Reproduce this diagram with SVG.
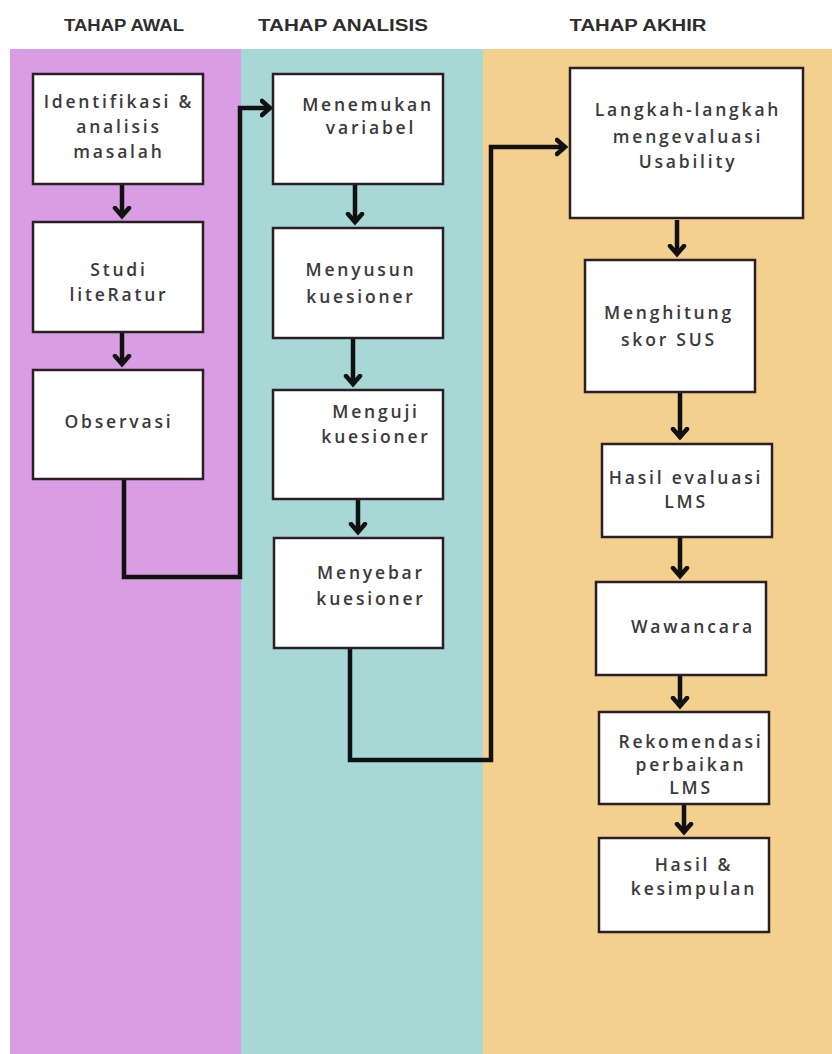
<svg xmlns="http://www.w3.org/2000/svg" width="832" height="1054" viewBox="0 0 832 1054">
<style>
.hdr{font-family:"Liberation Sans",Arial,sans-serif;font-weight:bold;font-size:16px;fill:#2e2e2e;text-anchor:middle}
.box{fill:#fff;stroke:#2a1f24;stroke-width:2.5}
.lbl{font-family:"Open Sans","Noto Sans",sans-serif;font-weight:600;font-size:17.5px;fill:#3a3a3a;letter-spacing:2.8px;text-anchor:middle}
.con{fill:none;stroke:#111;stroke-width:4.5;stroke-linejoin:miter}
</style>
<defs>
<marker id="ah" markerUnits="userSpaceOnUse" markerWidth="20" markerHeight="20" viewBox="-10 -10 20 20" refX="0" refY="0" orient="auto">
<polyline points="-8,-7 0,0 -8,7" fill="none" stroke="#111" stroke-width="4.5" stroke-linecap="round" stroke-linejoin="miter"/>
</marker>
</defs>
<rect x="0" y="0" width="832" height="1054" fill="#fff"/>
<g id="lanes">
<rect x="10" y="49" width="231" height="1005" fill="#d89de2"/>
<rect x="241" y="49" width="242" height="1005" fill="#a7d8d6"/>
<rect x="483" y="49" width="349" height="1005" fill="#f4d08e"/>
</g>
<g id="headers">
<text class="hdr" x="124" y="31" textLength="120" lengthAdjust="spacingAndGlyphs">TAHAP AWAL</text>
<text class="hdr" x="343" y="31" textLength="170" lengthAdjust="spacingAndGlyphs">TAHAP ANALISIS</text>
<text class="hdr" x="638" y="31" textLength="137" lengthAdjust="spacingAndGlyphs">TAHAP AKHIR</text>
</g>
<g id="connectors">
<line class="con" x1="122" y1="185" x2="122" y2="216" marker-end="url(#ah)"/>
<line class="con" x1="122" y1="333" x2="122" y2="364" marker-end="url(#ah)"/>
<polyline class="con" points="124,480 124,577 240,577 240,108 270,108" marker-end="url(#ah)"/>
<line class="con" x1="355" y1="185" x2="355" y2="222" marker-end="url(#ah)"/>
<line class="con" x1="353" y1="339" x2="353" y2="384" marker-end="url(#ah)"/>
<line class="con" x1="358" y1="500" x2="358" y2="532" marker-end="url(#ah)"/>
<polyline class="con" points="350,649 350,760 491,760 491,147 565,147" marker-end="url(#ah)"/>
<line class="con" x1="677" y1="220" x2="677" y2="254" marker-end="url(#ah)"/>
<line class="con" x1="680" y1="393" x2="680" y2="437" marker-end="url(#ah)"/>
<line class="con" x1="680" y1="538" x2="680" y2="576" marker-end="url(#ah)"/>
<line class="con" x1="680" y1="676" x2="680" y2="706" marker-end="url(#ah)"/>
<line class="con" x1="684" y1="805" x2="684" y2="832" marker-end="url(#ah)"/>
</g>
<g id="n1"><rect class="box" x="33" y="74" width="170" height="110"/>
<text class="lbl" x="119" y="108">Identifikasi &amp;</text>
<text class="lbl" x="119" y="133">analisis</text>
<text class="lbl" x="119" y="158">masalah</text></g>
<g id="n2"><rect class="box" x="33" y="222" width="170" height="110"/>
<text class="lbl" x="119" y="276">Studi</text>
<text class="lbl" x="119" y="301">liteRatur</text></g>
<g id="n3"><rect class="box" x="33" y="370" width="170" height="109"/>
<text class="lbl" x="119" y="428">Observasi</text></g>
<g id="n4"><rect class="box" x="273" y="74" width="170" height="110"/>
<text class="lbl" x="368" y="111">Menemukan</text>
<text class="lbl" x="371" y="134">variabel</text></g>
<g id="n5"><rect class="box" x="273" y="228" width="170" height="110"/>
<text class="lbl" x="361" y="276">Menyusun</text>
<text class="lbl" x="361" y="303">kuesioner</text></g>
<g id="n6"><rect class="box" x="273" y="390" width="170" height="109"/>
<text class="lbl" x="376" y="418">Menguji</text>
<text class="lbl" x="376" y="443">kuesioner</text></g>
<g id="n7"><rect class="box" x="274" y="538" width="169" height="110"/>
<text class="lbl" x="371" y="579">Menyebar</text>
<text class="lbl" x="371" y="605">kuesioner</text></g>
<g id="n8"><rect class="box" x="570" y="68" width="233" height="150" stroke-width="3.5"/>
<text class="lbl" x="688" y="116">Langkah-langkah</text>
<text class="lbl" x="688" y="143">mengevaluasi</text>
<text class="lbl" x="688" y="168">Usability</text></g>
<g id="n9"><rect class="box" x="585" y="260" width="170" height="132"/>
<text class="lbl" x="669" y="319">Menghitung</text>
<text class="lbl" x="669" y="346">skor SUS</text></g>
<g id="n10"><rect class="box" x="602" y="444" width="170" height="93"/>
<text class="lbl" x="686" y="484">Hasil evaluasi</text>
<text class="lbl" x="686" y="508">LMS</text></g>
<g id="n11"><rect class="box" x="596" y="582" width="170" height="93"/>
<text class="lbl" x="693" y="633">Wawancara</text></g>
<g id="n12"><rect class="box" x="599" y="712" width="170" height="92"/>
<text class="lbl" x="691" y="748">Rekomendasi</text>
<text class="lbl" x="691" y="771">perbaikan</text>
<text class="lbl" x="691" y="794">LMS</text></g>
<g id="n13"><rect class="box" x="599" y="838" width="170" height="94"/>
<text class="lbl" x="694" y="871">Hasil &amp;</text>
<text class="lbl" x="694" y="895">kesimpulan</text></g>
</svg>
